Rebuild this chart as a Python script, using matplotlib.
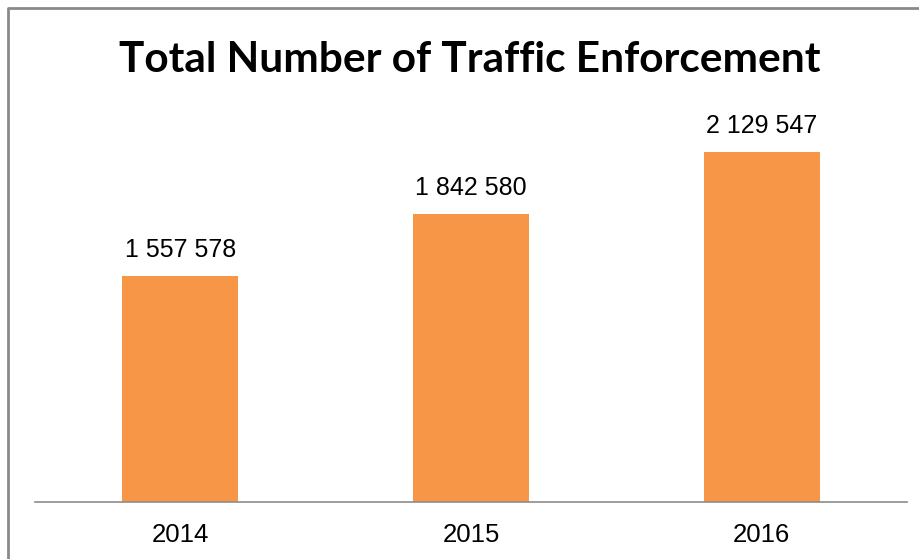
import matplotlib
matplotlib.use("Agg")
import matplotlib.pyplot as plt
from matplotlib.lines import Line2D
from matplotlib.ticker import NullLocator

years = ["2014", "2015", "2016"]
values = [1557578, 1842580, 2129547]
value_labels = ["1 557 578", "1 842 580", "2 129 547"]
title = "Total Number of Traffic Enforcement"

W, H = 920, 559
fig = plt.figure(figsize=(W / 100, H / 100), dpi=100)
fig.patch.set_facecolor("white")

ax = fig.add_axes([35 / W, (H - 502) / H, (907 - 35) / W, (502 - 74) / H])
x = list(range(len(years)))
bars = ax.bar(x, values, width=0.4, color="#F79646", zorder=2)
ax.set_xlim(-0.5, 2.5)
ax.set_ylim(515000, 2489000)

for s in ["top", "right", "left"]:
    ax.spines[s].set_visible(False)
ax.spines["bottom"].set_color("#8c8c8c")
ax.spines["bottom"].set_linewidth(1.2)
ax.yaxis.set_major_locator(NullLocator())
ax.set_xticks(x)
ax.set_xticklabels(years, fontfamily="Liberation Sans", fontsize=18.5)
ax.tick_params(axis="x", length=0, pad=15)

for xi, v, lab in zip(x, values, value_labels):
    ax.annotate(lab, (xi, v), xytext=(0, 10), textcoords="offset points",
                ha="center", va="bottom", fontfamily="Liberation Sans", fontsize=18)

fig.text(470 / W, 1 - 60 / H, title, ha="center", va="center",
         fontfamily="Lato", fontweight="bold", fontsize=30.5)

# outer frame (top and left edges visible)
fig.add_artist(Line2D([8 / W, 8 / W, 1.0], [0.0, 1 - 8 / H, 1 - 8 / H],
                      transform=fig.transFigure, color="#8a8a8a", linewidth=2))

fig.savefig("out.png", dpi=100)
